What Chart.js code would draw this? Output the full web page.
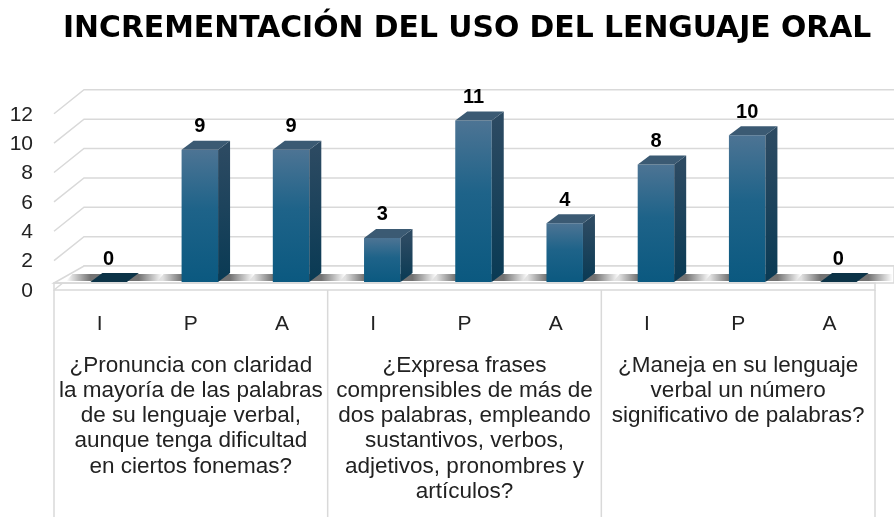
<!DOCTYPE html>
<html>
<head>
<meta charset="utf-8">
<script src="https://cdn.jsdelivr.net/npm/chart.js@4.4.1/dist/chart.umd.min.js"></script>
<style>
  html, body { margin: 0; padding: 0; background: #fff; }
  #wrap { width: 894px; height: 517px; }
</style>
</head>
<body>
<div id="wrap"><canvas id="chart" width="894" height="517"></canvas></div>
<script>
// chart data
const chartTitle = 'INCREMENTACIÓN DEL USO DEL LENGUAJE ORAL';
const levels = ['I', 'P', 'A', 'I', 'P', 'A', 'I', 'P', 'A'];
const counts = [0, 9, 9, 3, 11, 4, 8, 10, 0];
const questions = [
  ['¿Pronuncia con claridad', 'la mayoría de las palabras', 'de su lenguaje verbal,', 'aunque tenga dificultad', 'en ciertos fonemas?'],
  ['¿Expresa frases', 'comprensibles de más de', 'dos palabras, empleando', 'sustantivos, verbos,', 'adjetivos, pronombres y', 'artículos?'],
  ['¿Maneja en su lenguaje', 'verbal un número', 'significativo de palabras?']
];
const yMin = 0;
const yMax = 12;
const yStep = 2;

// 3D look: bars sit a bit behind the front edge, back wall further back
const FRONT_DX = -9, FRONT_DY = 8;   // front plane relative to bars
const WALL_DX = 21, WALL_DY = -16;   // back wall relative to bars
const BAR_DX = 12, BAR_DY = 9;       // depth of each column
const gridColor = '#d9d9d9';

const textFont = 'Liberation Sans, Arial, sans-serif';

function barGradient(context) {
  const chart = context.chart;
  const { ctx, chartArea, scales } = chart;
  if (!chartArea) return '#1f5f85';
  const v = context.raw;
  const top = scales.y.getPixelForValue(v);
  const bottom = scales.y.getPixelForValue(0);
  if (bottom - top < 1) return '#0c3347';
  const g = ctx.createLinearGradient(0, top, 0, bottom);
  g.addColorStop(0, '#4d7494');
  g.addColorStop(0.45, '#1e6389');
  g.addColorStop(1, '#0b5980');
  return g;
}

const frame3d = {
  id: 'frame3d',
  beforeDatasetsDraw(chart) {
    const { ctx, chartArea, scales } = chart;
    const x = scales.x, y = scales.y;
    const half = (x.getPixelForValue(1) - x.getPixelForValue(0)) / 2;
    const frontLeft = chartArea.left + FRONT_DX;
    const frontRight = chartArea.right + FRONT_DX;
    ctx.save();
    ctx.strokeStyle = gridColor;
    ctx.lineWidth = 1.5;
    // back wall grid lines + side wall diagonals
    for (let v = yMin; v <= yMax; v += yStep) {
      const py = y.getPixelForValue(v);
      ctx.beginPath();
      ctx.moveTo(frontLeft, py + FRONT_DY);
      ctx.lineTo(chartArea.left + WALL_DX, py + WALL_DY);
      ctx.lineTo(chart.width, py + WALL_DY);
      ctx.stroke();
    }
    // floor slab
    const y0 = y.getPixelForValue(0);
    ctx.fillStyle = '#ffffff';
    ctx.beginPath();
    ctx.moveTo(frontLeft, y0 + 1);
    ctx.lineTo(chartArea.left + WALL_DX, y0 + WALL_DY);
    ctx.lineTo(chart.width, y0 + WALL_DY);
    ctx.lineTo(chart.width, y0 + 1);
    ctx.closePath();
    ctx.fill();
    ctx.stroke();
    ctx.strokeRect(frontLeft, y0 + 1, frontRight - frontLeft, FRONT_DY - 1);

    // soft shadows on the floor either side of each column base
    const meta = chart.getDatasetMeta(0);
    meta.data.forEach(bar => {
      const w = bar.width;
      const sy = y0 - 8;
      const l = bar.x - w / 2 - 24, r = bar.x + w / 2 + BAR_DX + 24;
      const g = ctx.createLinearGradient(l, 0, r, 0);
      const edge = 24 / (r - l);
      g.addColorStop(0, 'rgba(0,0,0,0)');
      g.addColorStop(edge, 'rgba(0,0,0,0.55)');
      g.addColorStop(1 - edge, 'rgba(0,0,0,0.55)');
      g.addColorStop(1, 'rgba(0,0,0,0)');
      ctx.fillStyle = g;
      ctx.beginPath();
      ctx.moveTo(l, y0 - 1);
      ctx.lineTo(l + 6, sy);
      ctx.lineTo(r + 6, sy);
      ctx.lineTo(r, y0 - 1);
      ctx.closePath();
      ctx.fill();
    });

    // table lines below the plot
    ctx.strokeStyle = gridColor;
    ctx.lineWidth = 1.5;
    ctx.beginPath();
    for (let i = 0; i <= levels.length; i += 3) {
      const px = (i < levels.length ? x.getPixelForValue(i) - half : x.getPixelForValue(levels.length - 1) + half) + FRONT_DX;
      ctx.moveTo(px, y0 + FRONT_DY);
      ctx.lineTo(px, chart.height);
    }
    ctx.stroke();
    ctx.restore();
  },
  afterDatasetsDraw(chart) {
    const { ctx } = chart;
    const meta = chart.getDatasetMeta(0);
    ctx.save();
    meta.data.forEach((bar, i) => {
      const w = bar.width;
      const l = bar.x - w / 2, r = bar.x + w / 2;
      const top = bar.y, base = bar.base;
      if (base - top >= 1) {
        // side face
        const sg = ctx.createLinearGradient(0, top, 0, base);
        sg.addColorStop(0, '#2c4a62');
        sg.addColorStop(1, '#093a54');
        ctx.fillStyle = sg;
        ctx.beginPath();
        ctx.moveTo(r, top);
        ctx.lineTo(r + BAR_DX, top - BAR_DY);
        ctx.lineTo(r + BAR_DX, base - BAR_DY);
        ctx.lineTo(r, base);
        ctx.closePath();
        ctx.fill();
        ctx.fillStyle = '#3b5a73';
      } else {
        ctx.fillStyle = '#0c3347';
      }
      // top face
      ctx.beginPath();
      ctx.moveTo(l, top);
      ctx.lineTo(l + BAR_DX, top - BAR_DY);
      ctx.lineTo(r + BAR_DX, top - BAR_DY);
      ctx.lineTo(r, top);
      ctx.closePath();
      ctx.fill();
      // value label
      ctx.fillStyle = '#000';
      ctx.font = 'bold 20px ' + textFont;
      ctx.textAlign = 'center';
      ctx.textBaseline = 'middle';
      ctx.fillText(String(counts[i]), bar.x, top - 23);
    });
    ctx.restore();
  }
};

const ctx = document.getElementById('chart').getContext('2d');

new Chart(ctx, {
  type: 'bar',
  data: {
    labels: levels,
    datasets: [{
      label: 'Frecuencia',
      data: counts,
      backgroundColor: barGradient,
      borderWidth: 0,
      barPercentage: 0.4,
      categoryPercentage: 1
    }]
  },
  options: {
    responsive: false,
    animation: false,
    layout: { padding: { left: 0, right: 10, top: 0, bottom: 0 } },
    plugins: {
      legend: { display: false },
      tooltip: { enabled: false },
      title: {
        display: true,
        fullSize: false,
        align: 'start',
        text: chartTitle,
        color: '#000',
        font: { family: 'DejaVu Sans', weight: 'bold', size: 29.8 },
        padding: { top: 11, bottom: 59 }
      }
    },
    scales: {
      y: {
        min: yMin,
        max: yMax,
        afterFit(scale) { scale.width = 63; },
        border: { display: false },
        grid: { display: false, drawTicks: false },
        ticks: {
          stepSize: yStep,
          padding: 30,
          labelOffset: FRONT_DY + 1,
          color: '#222',
          font: { family: textFont, size: 21 }
        }
      },
      x: {
        weight: 0,
        afterFit(scale) { scale.height = 60; },
        border: { display: false },
        grid: { display: false, drawTicks: false },
        ticks: {
          padding: 30,
          labelOffset: FRONT_DX,
          maxRotation: 0,
          autoSkip: false,
          color: '#222',
          font: { family: textFont, size: 21 }
        }
      },
      x2: {
        type: 'category',
        position: 'bottom',
        weight: 1,
        labels: questions,
        offset: true,
        afterFit(scale) { scale.height = 175; },
        border: { display: false },
        grid: { display: false, drawTicks: false },
        ticks: {
          padding: 11,
          labelOffset: FRONT_DX,
          maxRotation: 0,
          autoSkip: false,
          color: '#222',
          font: { family: textFont, size: 22.5, lineHeight: 1.12 }
        }
      }
    }
  },
  plugins: [frame3d]
});
</script>
</body>
</html>
